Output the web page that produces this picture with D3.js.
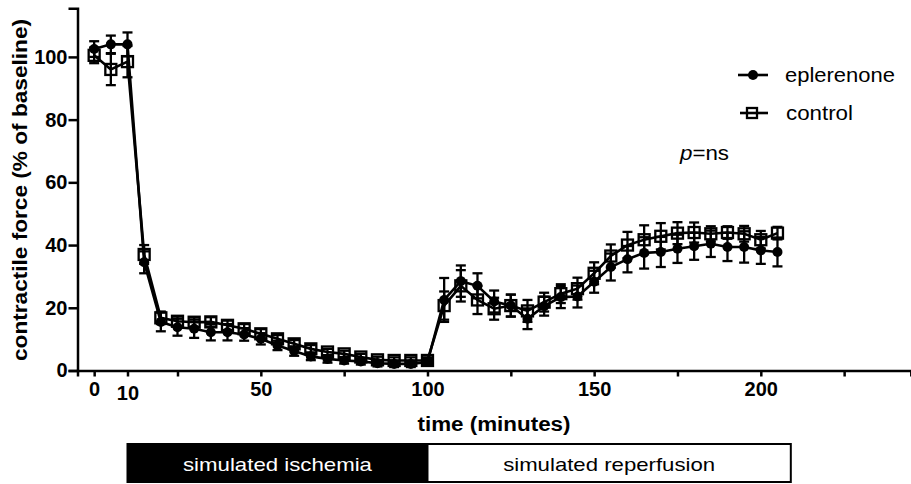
<!DOCTYPE html>
<html><head><meta charset="utf-8">
<script src="https://cdn.jsdelivr.net/npm/d3@7"></script>
<style>
html,body{margin:0;padding:0;background:#fff;}
svg{display:block;font-family:"Liberation Sans",Arial,sans-serif;}
</style></head>
<body><svg id="c" width="911" height="484"></svg>
<script>
const times = [0,5,10,15,20,25,30,35,40,45,50,55,60,65,70,75,80,85,90,95,100,105,110,115,120,125,130,135,140,145,150,155,160,165,170,175,180,185,190,195,200,205];
const eplerenone = [102.5,104,104,34.5,15.5,13.8,13.3,12.2,12.2,11.5,10.1,8.0,6.2,4.5,3.7,3.2,2.9,2.3,2.1,2.1,2.7,22.5,28.5,27,22,20.7,16.5,20.5,23.4,23.6,28.3,33,35.5,37.5,37.8,38.8,39.6,40.4,39.4,39.4,38.3,37.8];
const eplerenoneErr = [2.5,2.8,3.8,3.5,3,2.7,2.9,2.6,2.6,2,1.8,1.5,1.5,1.2,1.2,1,1,1,1,1,1,7,5,4,3.5,3.5,3.3,3,3.5,3.5,3.5,4.3,4.2,5,4.8,4.5,4.3,4.2,4.5,5,4.3,4.6];
const control = [100.5,96,98.5,37,16.8,15.7,15.4,15.5,14.4,13.3,11.7,10.1,8.5,6.9,5.9,5.3,4.3,3.4,3.2,3.2,3.2,20.7,27,22.5,19.7,20.7,19,21.8,24.5,26.1,31,36.5,40,41.7,42.8,43.8,44,43.6,44,43.6,41.7,43.8];
const controlErr = [2.5,5,5,3,2,1.5,1.5,1.5,1.5,1.5,1.5,1.2,1.2,1.2,1,1,1,1,1,1,1,4.5,5,4.5,3.5,3.5,3.5,3,3,3.5,3.5,3.7,4.2,4.6,4.2,3.5,3.2,2.4,2,2.5,2.8,2];
const xTicks = [0,10,25,50,75,100,125,150,175,200,225];
const xTickLabels = [0,10,50,100,150,200];
const yTicks = [0,20,40,60,80,100];
const phaseNames = ["simulated ischemia","simulated reperfusion"];
const phaseStart = [10,100];
const phaseEnd = [100,209];
const seriesNames = ["eplerenone","control"];

const svg = d3.select("#c");
const x = d3.scaleLinear().domain([-5,245]).range([77.5,910.8]);
const y = d3.scaleLinear().domain([0,115.5]).range([370.5,8.3]);

function fit(sel, len){ sel.attr("textLength", len).attr("lengthAdjust","spacingAndGlyphs"); }

// axes
const xAxis = svg.append("g").attr("transform","translate(0,370.5)")
  .call(d3.axisBottom(x).tickValues(xTicks).tickSizeOuter(0).tickSize(6).tickPadding(5)
    .tickFormat(d => xTickLabels.includes(d) ? String(d) : ""));
const yAxis = svg.append("g").attr("transform","translate(77.5,0)")
  .call(d3.axisLeft(y).tickValues(yTicks).tickSizeOuter(0).tickSize(9).tickPadding(1));
[xAxis,yAxis].forEach(a=>{
  a.select(".domain").attr("stroke","#000").attr("stroke-width",2.5);
  a.selectAll(".tick line").attr("stroke","#000").attr("stroke-width",2.5);
  a.selectAll(".tick text").attr("fill","#000").style("font-size","20px").style("font-weight","bold")
    .style("font-family","'Liberation Sans',Arial,sans-serif");
});
xAxis.selectAll(".tick text").filter(d=>d===10).attr("y",15);

// axis titles
svg.append("text").attr("transform","translate(27,190) rotate(-90)").attr("text-anchor","middle")
  .style("font-size","20px").style("font-weight","bold").text("contractile force (% of baseline)")
  .call(fit,342);
svg.append("text").attr("x",494).attr("y",431).attr("text-anchor","middle")
  .style("font-size","20px").style("font-weight","bold").text("time (minutes)").call(fit,153);

// data
const line = d3.line().x(d=>x(d.t)).y(d=>y(d.v));
function series(vals, errs){ return times.map((t,i)=>({t, v:vals[i], e:errs[i]})); }
const sE = series(eplerenone, eplerenoneErr);
const sC = series(control, controlErr);

function drawErr(data){
  const g = svg.append("g").attr("stroke","#000").attr("stroke-width",2.3);
  g.selectAll("line.v").data(data).join("line").attr("class","v")
    .attr("x1",d=>x(d.t)).attr("x2",d=>x(d.t)).attr("y1",d=>y(d.v-d.e)).attr("y2",d=>y(d.v+d.e));
  g.selectAll("line.t").data(data).join("line").attr("class","t")
    .attr("x1",d=>x(d.t)-5).attr("x2",d=>x(d.t)+5).attr("y1",d=>y(d.v+d.e)).attr("y2",d=>y(d.v+d.e));
  g.selectAll("line.b").data(data).join("line").attr("class","b")
    .attr("x1",d=>x(d.t)-5).attr("x2",d=>x(d.t)+5).attr("y1",d=>y(d.v-d.e)).attr("y2",d=>y(d.v-d.e));
}
drawErr(sE); drawErr(sC);
svg.append("path").datum(sE).attr("d",line).attr("fill","none").attr("stroke","#000").attr("stroke-width",2.6);
svg.append("path").datum(sC).attr("d",line).attr("fill","none").attr("stroke","#000").attr("stroke-width",2.6);
svg.append("g").selectAll("circle").data(sE).join("circle")
  .attr("cx",d=>x(d.t)).attr("cy",d=>y(d.v)).attr("r",5).attr("fill","#000");
svg.append("g").selectAll("rect").data(sC).join("rect")
  .attr("x",d=>x(d.t)-5.5).attr("y",d=>y(d.v)-5.5).attr("width",11).attr("height",11)
  .attr("fill","none").attr("stroke","#000").attr("stroke-width",2.3);

// legend
const lg = svg.append("g");
lg.append("line").attr("x1",738).attr("x2",768).attr("y1",75).attr("y2",75).attr("stroke","#000").attr("stroke-width",2.6);
lg.append("circle").attr("cx",753).attr("cy",75).attr("r",5).attr("fill","#000");
lg.append("text").attr("x",785).attr("y",82).style("font-size","20px").text(seriesNames[0]).call(fit,110);
lg.append("line").attr("x1",740).attr("x2",768).attr("y1",113).attr("y2",113).attr("stroke","#000").attr("stroke-width",2.6);
lg.append("rect").attr("x",747).attr("y",108).attr("width",10).attr("height",10).attr("fill","none").attr("stroke","#000").attr("stroke-width",2.3);
lg.append("text").attr("x",786).attr("y",120).style("font-size","20px").text(seriesNames[1]).call(fit,67);

const pt = svg.append("text").attr("x",680).attr("y",160).style("font-size","20px");
pt.append("tspan").style("font-style","italic").text("p");
pt.append("tspan").text("=ns");
pt.call(fit,49);

// phase bar
const bar = svg.append("g");
phaseNames.forEach((name,i)=>{
  const x0 = x(phaseStart[i]), x1 = x(phaseEnd[i]);
  bar.append("rect").attr("x",x0).attr("y",444).attr("width",x1-x0).attr("height",38)
    .attr("fill", i===0 ? "#000" : "#fff").attr("stroke","#000").attr("stroke-width",2);
  bar.append("text").attr("x",(x0+x1)/2).attr("y",471).attr("text-anchor","middle")
    .attr("fill", i===0 ? "#fff" : "#000").style("font-size","19px").text(name)
    .call(fit, i===0 ? 189 : 212);
});
</script></body></html>
